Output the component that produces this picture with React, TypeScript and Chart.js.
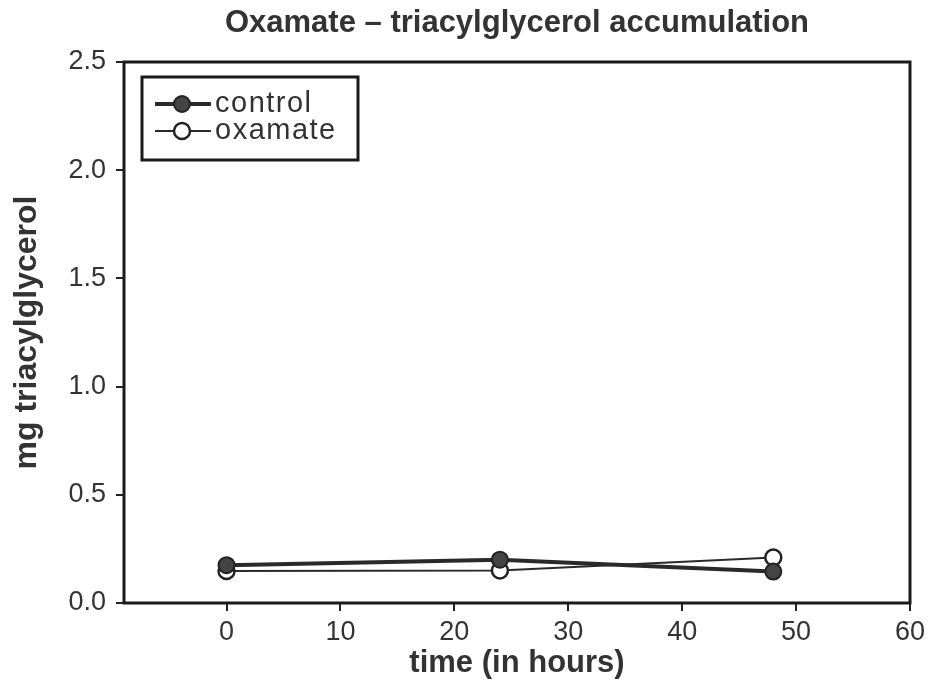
import React, { useEffect, useRef } from "react";
import { Chart, registerables } from "chart.js";

Chart.register(...registerables);

const hours = [0, 24, 48];
const controlValues = [0.175, 0.2, 0.145];
const oxamateValues = [0.148, 0.15, 0.21];
const seriesNames = ["control", "oxamate"];
const chartTitle = "Oxamate – triacylglycerol accumulation";
const xTitle = "time (in hours)";
const yTitle = "mg triacylglycerol";

const FONT = "'Liberation Sans', Arial, Helvetica, sans-serif";

const frameAndLegend = {
  id: "frameAndLegend",
  afterDraw(chart: any) {
    const { ctx, chartArea } = chart;
    ctx.save();
    ctx.strokeStyle = "#1a1a1a";
    ctx.lineWidth = 3;
    ctx.strokeRect(chartArea.left, chartArea.top, chartArea.right - chartArea.left, chartArea.bottom - chartArea.top);

    // legend box
    const bx = chartArea.left + 18;
    const by = chartArea.top + 15;
    const bw = 216;
    const bh = 83;
    ctx.lineWidth = 3;
    ctx.strokeRect(bx, by, bw, bh);
    chart.data.datasets.forEach((ds: any, i: number) => {
      const y = by + 27 + i * 27;
      const x0 = bx + 13;
      const x1 = bx + 69;
      const mx = (x0 + x1) / 2 - 1;
      ctx.strokeStyle = ds.borderColor;
      ctx.lineWidth = ds.borderWidth;
      ctx.beginPath();
      ctx.moveTo(x0, y);
      ctx.lineTo(x1, y);
      ctx.stroke();
      ctx.beginPath();
      ctx.arc(mx, y, ds.pointRadius, 0, Math.PI * 2);
      ctx.fillStyle = ds.pointBackgroundColor;
      ctx.fill();
      ctx.lineWidth = ds.pointBorderWidth;
      ctx.strokeStyle = ds.pointBorderColor;
      ctx.stroke();
      ctx.fillStyle = "#333";
      ctx.font = `29px ${FONT}`;
      try { (ctx as any).letterSpacing = "1.5px"; } catch (e) {}
      ctx.textBaseline = "middle";
      ctx.textAlign = "left";
      ctx.fillText(ds.label, x1 + 4, y);
      try { (ctx as any).letterSpacing = "0px"; } catch (e) {}
    });
    ctx.restore();
  },
};

export default function App() {
  const ref = useRef<HTMLCanvasElement>(null);
  useEffect(() => {
    if (!ref.current) return;
    const chart = new Chart(ref.current, {
      type: "line",
      data: {
        datasets: [
          {
            label: seriesNames[0],
            data: hours.map((h, i) => ({ x: h, y: controlValues[i] })),
            borderColor: "#2a2a2a",
            borderWidth: 4,
            pointRadius: 8,
            pointBackgroundColor: "#444",
            pointBorderColor: "#222",
            pointBorderWidth: 2,
          },
          {
            label: seriesNames[1],
            data: hours.map((h, i) => ({ x: h, y: oxamateValues[i] })),
            borderColor: "#2a2a2a",
            borderWidth: 2,
            pointRadius: 8,
            pointBackgroundColor: "#fff",
            pointBorderColor: "#222",
            pointBorderWidth: 2.5,
          },
        ],
      },
      plugins: [frameAndLegend],
      options: {
        animation: false,
        responsive: false,
        layout: { padding: { left: 0, right: 23, top: 0, bottom: 0 } },
        plugins: {
          legend: { display: false },
          tooltip: { enabled: false },
          title: {
            display: true,
            fullSize: false,
            text: chartTitle,
            color: "#333",
            font: { family: FONT, size: 31, weight: "bold", lineHeight: 1.2 },
            padding: { top: 4.4, bottom: 20.4 },
          },
        },
        scales: {
          x: {
            type: "linear",
            min: -9,
            max: 60,
            afterFit: (s: any) => { s.height = 82; },
            ticks: {
              stepSize: 10,
              includeBounds: false,
              color: "#333",
              font: { family: FONT, size: 27 },
              padding: 5,
            },
            grid: { drawOnChartArea: false, drawTicks: true, tickLength: 8, color: "#222", lineWidth: 2 },
            border: { display: false },
            title: {
              display: true,
              text: xTitle,
              color: "#333",
              font: { family: FONT, size: 31, weight: "bold", lineHeight: 1.2 },
              padding: { top: 0, bottom: 3.4 },
            },
          },
          y: {
            type: "linear",
            min: 0,
            max: 2.5,
            afterFit: (s: any) => { s.width = 124; },
            ticks: {
              stepSize: 0.5,
              color: "#333",
              font: { family: FONT, size: 27 },
              padding: 10,
              callback: (v: any) => Number(v).toFixed(1),
            },
            grid: { drawOnChartArea: false, drawTicks: true, tickLength: 8, color: "#222", lineWidth: 2 },
            border: { display: false },
            title: {
              display: true,
              text: yTitle,
              color: "#333",
              font: { family: FONT, size: 32, weight: "bold", lineHeight: 1.2 },
              padding: { top: 8, bottom: 0 },
            },
          },
        },
      },
    });
    return () => chart.destroy();
  }, []);
  return (
    <div style={{ position: "fixed", left: 0, top: 0, width: 933, height: 685, background: "#fff" }}>
      <canvas ref={ref} width={933} height={685} style={{ width: 933, height: 685 }} />
    </div>
  );
}
